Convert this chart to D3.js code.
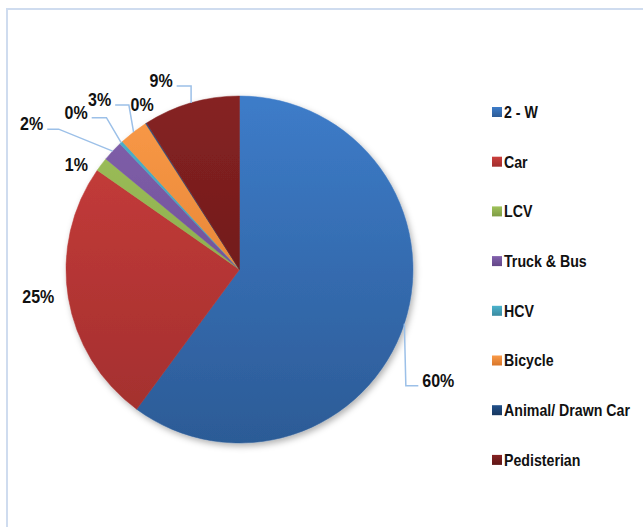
<!DOCTYPE html>
<html>
<head>
<meta charset="utf-8">
<script src="https://cdn.jsdelivr.net/npm/d3@7"></script>
<style>
  body { margin: 0; background: #fff; }
  text { font-family: "Liberation Sans", Arial, sans-serif; font-weight: bold; fill: #111; }
</style>
</head>
<body>
<svg id="chart"></svg>
<script>
// Data (percent shares)
var categories = ["2 - W", "Car", "LCV", "Truck & Bus", "HCV", "Bicycle", "Animal/ Drawn Car", "Pedisterian"];
var values = [60.1, 24.6, 1.3, 1.9, 0.3, 2.7, 0.1, 9.0];
var labels = ["60%", "25%", "1%", "2%", "0%", "3%", "0%", "9%"];

// Slice colours: top and bottom of the gradient
var colTop = ["#3d7cc9", "#cb3e3c", "#9fc25a", "#8261ad", "#4cb3cd", "#fa9a48", "#21508a", "#862222"];
var colBot = ["#2c5b96", "#a02e2d", "#7f9c45", "#634687", "#3a8aa0", "#d8762a", "#17375e", "#5e1616"];

// Label placement relative to the slice edge point: [dx, dy, leader knee dx or null]
var labelLayout = [
  [34, 57, 1.5],
  [-30, -1, null],
  [-25, 0, null],
  [-81, -27, -54],
  [-45, -30, -14.7],
  [-34, -32, -4.7],
  [-4, -19, null],
  [-30, -22, 0]
];

var W = 643, H = 527;
var cx = 239.5, cy = 269.5, R = 173.5;
var squeeze = 0.89;   // horizontal squeeze to mimic the condensed face

var svg = d3.select("#chart").attr("width", W).attr("height", H);

// Chart frame
svg.append("rect")
  .attr("x", 7).attr("y", 9)
  .attr("width", W + 10).attr("height", H + 10)
  .attr("fill", "#fff")
  .attr("stroke", "#cfdcef")
  .attr("stroke-width", 2);

var defs = svg.append("defs");

var shadow = defs.append("filter").attr("id", "shadow")
  .attr("x", "-10%").attr("y", "-10%").attr("width", "125%").attr("height", "125%");
shadow.append("feDropShadow")
  .attr("dx", 2).attr("dy", 3).attr("stdDeviation", 3)
  .attr("flood-color", "#000").attr("flood-opacity", 0.3);

categories.forEach(function(c, i) {
  var g = defs.append("linearGradient")
    .attr("id", "grad" + i)
    .attr("gradientUnits", "userSpaceOnUse")
    .attr("x1", 0).attr("y1", -R).attr("x2", 0).attr("y2", R);
  g.append("stop").attr("offset", "0%").attr("stop-color", colTop[i]);
  g.append("stop").attr("offset", "100%").attr("stop-color", colBot[i]);

  var lg = defs.append("linearGradient").attr("id", "lg" + i)
    .attr("x1", 0).attr("y1", 0).attr("x2", 0).attr("y2", 1);
  lg.append("stop").attr("offset", "0%").attr("stop-color", colTop[i]);
  lg.append("stop").attr("offset", "100%").attr("stop-color", colBot[i]);
});

var pie = d3.pie().sort(null).value(function(d) { return d; });
var arc = d3.arc().innerRadius(0).outerRadius(R);
var edge = d3.arc().innerRadius(R).outerRadius(R);

var arcs = pie(values);

var g = svg.append("g").attr("transform", "translate(" + cx + "," + cy + ")");

g.append("g").attr("filter", "url(#shadow)")
  .selectAll("path")
  .data(arcs)
  .enter().append("path")
    .attr("d", arc)
    .attr("fill", function(d, i) { return "url(#grad" + i + ")"; })
    .attr("stroke", function(d, i) { return "url(#grad" + i + ")"; })
    .attr("stroke-width", 0.5);

// Data labels with leader lines
arcs.forEach(function(d, i) {
  var p = edge.centroid(d);
  var lay = labelLayout[i];
  var lx = p[0] + lay[0], ly = p[1] + lay[1];

  var t = g.append("text")
    .attr("transform", "translate(" + lx + "," + ly + ") scale(" + squeeze + ",1)")
    .attr("dy", "0.35em")
    .attr("text-anchor", "middle")
    .style("font-size", "18px")
    .text(labels[i]);

  if (lay[2] !== null) {
    var hw = t.node().getComputedTextLength() * squeeze / 2;
    var side = lay[0] > 0 ? -1 : 1;
    var lineY = ly + 5;
    var pts = [p, [p[0] + lay[2], lineY], [lx + side * (hw + 4), lineY]];
    g.append("path")
      .attr("d", d3.line()(pts))
      .attr("fill", "none")
      .attr("stroke", "#9cc0e8")
      .attr("stroke-width", 1.5);
  }
});

// Legend
var legend = svg.append("g").attr("transform", "translate(492,112)");
var item = legend.selectAll("g")
  .data(categories)
  .enter().append("g")
    .attr("transform", function(d, i) { return "translate(0," + (i * 49.7) + ")"; });

item.append("rect")
  .attr("x", 0).attr("y", -5)
  .attr("width", 10).attr("height", 10)
  .attr("fill", function(d, i) { return "url(#lg" + i + ")"; });

item.append("text")
  .attr("transform", "translate(12,0) scale(0.87,1)")
  .attr("dy", "0.36em")
  .style("font-size", "16.3px")
  .text(function(d) { return d; });
</script>
</body>
</html>
